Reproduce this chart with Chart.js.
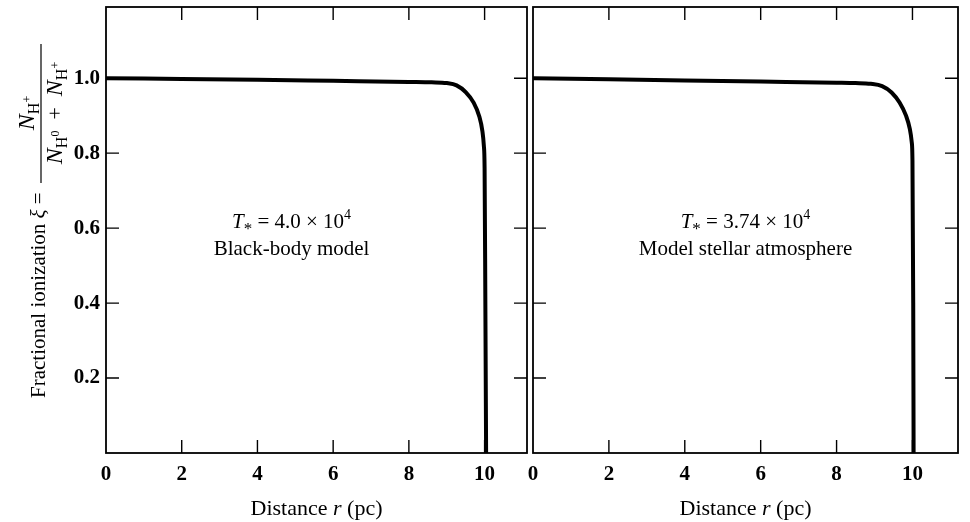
<!DOCTYPE html>
<html>
<head>
<meta charset="utf-8">
<script src="https://cdn.jsdelivr.net/npm/chart.js@4/dist/chart.umd.min.js"></script>
<style>
  html, body { margin: 0; padding: 0; background: #fff; }
  #wrap { position: relative; width: 970px; height: 522px; overflow: hidden; }
  #c1 { position: absolute; left: 0; top: 0; }
  #c2 { position: absolute; left: 510px; top: 0; }
</style>
</head>
<body>
<div id="wrap">
  <canvas id="c1" width="531" height="522"></canvas>
  <canvas id="c2" width="460" height="522"></canvas>
</div>
<script>
// ticks shared by both panels
const xTicks = [0, 2, 4, 6, 8, 10];
const yTicks = [0.2, 0.4, 0.6, 0.8, 1.0];

// left panel: black-body model, T* = 4.0e4
const bbR  = [0, 2, 4, 6, 8, 8.6, 9.0, 9.26, 9.5, 9.71, 9.86, 9.94, 9.98, 10.0, 10.02, 10.04];
const bbXi = [1.0, 0.998, 0.996, 0.993, 0.99, 0.989, 0.987, 0.981, 0.963, 0.935, 0.898, 0.86, 0.82, 0.76, 0.4, 0.0];

// right panel: model stellar atmosphere, T* = 3.74e4
const atmR  = [0, 2, 4, 6, 8, 8.5, 8.9, 9.2, 9.45, 9.66, 9.83, 9.93, 9.98, 10.0, 10.02, 10.03];
const atmXi = [1.0, 0.997, 0.994, 0.991, 0.988, 0.987, 0.985, 0.979, 0.962, 0.935, 0.9, 0.865, 0.83, 0.78, 0.4, 0.0];

const SERIF = '"Liberation Serif", "Times New Roman", serif';
const TICK = 13;

function toPoints(xs, ys) {
    return xs.map(function (x, i) { return { x: x, y: ys[i] }; });
}

// draw a row of text pieces with their own fonts / offsets
function drawRuns(ctx, runs, x, y, align) {
    let w = 0;
    runs.forEach(function (r) { ctx.font = r.font; w += ctx.measureText(r.t).width; });
    let cx = align === 'center' ? x - w / 2 : x;
    ctx.textAlign = 'left';
    ctx.textBaseline = 'alphabetic';
    runs.forEach(function (r) {
        ctx.font = r.font;
        ctx.fillText(r.t, cx, y + (r.dy || 0));
        cx += ctx.measureText(r.t).width;
    });
    return w;
}

function tStar(value) {
    return [
        { t: 'T', font: 'italic 21px ' + SERIF },
        { t: '*', font: '17px ' + SERIF, dy: 6 },
        { t: ' = ' + value + ' \u00d7 10', font: '21px ' + SERIF },
        { t: '4', font: '14px ' + SERIF, dy: -9 }
    ];
}

function nH(sup) {
    return [
        { t: 'N', font: 'italic 24px ' + SERIF },
        { t: 'H', font: '16px ' + SERIF, dy: 5 },
        { t: sup, font: '12px ' + SERIF, dy: -3 }
    ];
}

function panelPlugin(note, withYTitle) {
    return {
        id: 'panel',
        afterDraw(chart) {
            const ctx = chart.ctx, a = chart.chartArea;
            const xs = chart.scales.x, ys = chart.scales.y;
            ctx.save();
            ctx.strokeStyle = '#000';
            ctx.fillStyle = '#000';
            ctx.lineWidth = 1.8;
            ctx.strokeRect(a.left, a.top, a.right - a.left, a.bottom - a.top);

            // inward ticks on all four sides
            ctx.lineWidth = 1.4;
            ctx.beginPath();
            xTicks.forEach(function (v) {
                if (v === 0) return;
                const px = xs.getPixelForValue(v);
                ctx.moveTo(px, a.bottom); ctx.lineTo(px, a.bottom - TICK);
                ctx.moveTo(px, a.top); ctx.lineTo(px, a.top + TICK);
            });
            yTicks.forEach(function (v) {
                const py = ys.getPixelForValue(v);
                ctx.moveTo(a.left, py); ctx.lineTo(a.left + TICK, py);
                ctx.moveTo(a.right, py); ctx.lineTo(a.right - TICK, py);
            });
            ctx.stroke();

            // x axis title
            const mid = (a.left + a.right) / 2;
            drawRuns(ctx, [
                { t: 'Distance ', font: '22px ' + SERIF },
                { t: 'r', font: 'italic 22px ' + SERIF },
                { t: ' (pc)', font: '22px ' + SERIF }
            ], mid, 515, 'center');

            // panel note
            const nx = xs.getPixelForValue(note.r);
            const ny = ys.getPixelForValue(note.xi);
            drawRuns(ctx, tStar(note.value), nx, ny, 'center');
            drawRuns(ctx, [{ t: note.text, font: '21px ' + SERIF }], nx, ny + 27, 'center');

            if (withYTitle) {
                // fraction bar
                ctx.lineWidth = 1.2;
                ctx.beginPath();
                ctx.moveTo(41, 44); ctx.lineTo(41, 183);
                ctx.stroke();
                ctx.rotate(-Math.PI / 2);
                drawRuns(ctx, [
                    { t: 'Fractional ionization ', font: '21px ' + SERIF },
                    { t: '\u03be', font: 'italic 21px ' + SERIF },
                    { t: ' = ', font: '21px ' + SERIF }
                ], -398, 45, 'left');
                drawRuns(ctx, nH('+'), -113, 34, 'center');
                drawRuns(ctx, nH('0').concat([{ t: '  +  ', font: '22px ' + SERIF }], nH('+')), -113, 62, 'center');
            }
            ctx.restore();
        }
    };
}

function makePanel(canvasId, rs, xis, opt) {
    const ctx = document.getElementById(canvasId).getContext('2d');
    return new Chart(ctx, {
        type: 'line',
        data: {
            datasets: [{
                data: toPoints(rs, xis),
                borderColor: '#000',
                borderWidth: 4,
                pointRadius: 0,
                fill: false,
                cubicInterpolationMode: 'monotone',
                borderCapStyle: 'butt',
                borderJoinStyle: 'round'
            }]
        },
        options: {
            responsive: false,
            animation: false,
            events: [],
            layout: { padding: { left: opt.padLeft, right: opt.padRight, top: 7, bottom: 0 } },
            plugins: { legend: { display: false }, tooltip: { enabled: false } },
            scales: {
                x: {
                    type: 'linear',
                    min: 0,
                    max: opt.xMax,
                    afterBuildTicks: function (s) { s.ticks = xTicks.map(function (v) { return { value: v }; }); },
                    afterFit: function (s) { s.height = 69; },
                    grid: { display: false, drawTicks: false, tickLength: 0 },
                    border: { display: false },
                    ticks: {
                        color: '#000',
                        padding: 9,
                        maxRotation: 0,
                        autoSkip: false,
                        font: { family: SERIF, size: 21, weight: 'bold' },
                        callback: function (v) { return String(v); }
                    }
                },
                y: {
                    type: 'linear',
                    min: 0,
                    max: 1.19,
                    afterBuildTicks: function (s) { s.ticks = yTicks.map(function (v) { return { value: v }; }); },
                    afterFit: function (s) {
                        s.width = opt.yWidth;
                        s.paddingTop = 0;
                        s.paddingBottom = 0;
                    },
                    grid: { display: false, drawTicks: false, tickLength: 0 },
                    border: { display: false },
                    ticks: {
                        display: opt.yLabels,
                        color: '#000',
                        padding: 6,
                        font: { family: SERIF, size: 21, weight: 'bold' },
                        callback: function (v) { return v.toFixed(1); }
                    }
                }
            }
        },
        plugins: [panelPlugin(opt.note, opt.yTitle)]
    });
}

makePanel('c1', bbR, bbXi, {
    padLeft: 0, padRight: 4, yWidth: 106, yLabels: true, yTitle: true, xMax: 11.12,
    note: { r: 4.9, xi: 0.6, value: '4.0', text: 'Black-body model' }
});
makePanel('c2', atmR, atmXi, {
    padLeft: 0, padRight: 12, yWidth: 23, yLabels: false, yTitle: false, xMax: 11.2,
    note: { r: 5.6, xi: 0.6, value: '3.74', text: 'Model stellar atmosphere' }
});
</script>
</body>
</html>
